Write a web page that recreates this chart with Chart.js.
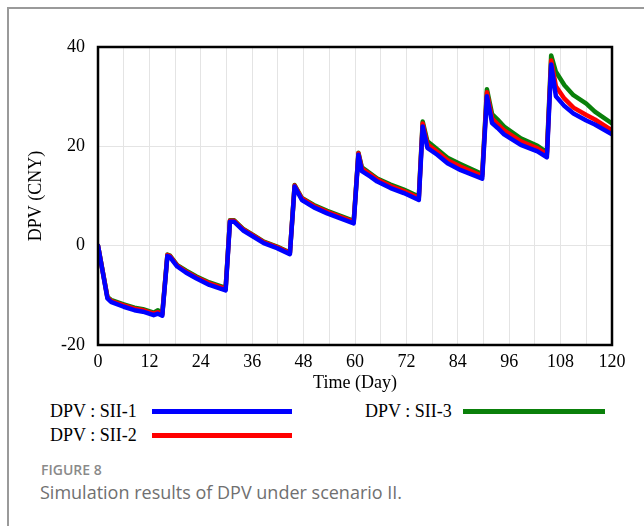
<!DOCTYPE html>
<html>
<head>
<meta charset="utf-8">
<script src="https://cdn.jsdelivr.net/npm/chart.js@4/dist/chart.umd.min.js"></script>
<style>
  html, body { margin: 0; padding: 0; background: #fff; }
  #page { position: relative; width: 644px; height: 526px; overflow: hidden; }
  #frame { position: absolute; left: 7px; top: 7px; right: -4px; bottom: -4px;
           border-left: 2px solid #9a9a9a; border-top: 2px solid #9a9a9a; }
  #chart { position: absolute; left: 0; top: 0; }
  .lg { position: absolute; font-family: "Liberation Serif", "Times New Roman", serif;
        font-size: 18px; color: #000; line-height: 20px; white-space: nowrap; }
  .lgline { position: absolute; height: 5px; }
  #fig { position: absolute; left: 41px; top: 460px; font-family: "Open Sans", sans-serif;
         font-weight: 600; font-size: 14px; color: #8a8a8a; }
  #cap { position: absolute; left: 40px; top: 480px; font-family: "Open Sans", sans-serif;
         font-size: 18px; color: #707070; }
</style>
</head>
<body>
<div id="page">
  <div id="frame"></div>
  <canvas id="chart" width="644" height="400"></canvas>
  <div class="lg" style="left:50px; top:401px;">DPV : SII-1</div>
  <div class="lgline" style="left:152px; top:409px; width:140px; background:#0000ff;"></div>
  <div class="lg" style="left:365px; top:401px;">DPV : SII-3</div>
  <div class="lgline" style="left:463px; top:409px; width:142px; background:#0a800a;"></div>
  <div class="lg" style="left:50px; top:425px;">DPV : SII-2</div>
  <div class="lgline" style="left:152px; top:433px; width:140px; background:#ff0000;"></div>
  <div id="fig">FIGURE 8</div>
  <div id="cap">Simulation results of DPV under scenario II.</div>
</div>
<script>
// -----------------------------
// Data
// -----------------------------
const days = [0, 2.2, 3, 6, 8.5, 10.5, 13, 14, 15, 16.2, 16.8, 18.5, 20.5, 23, 26, 29.8,
  30.8, 31.8, 34, 36.3, 38.7, 41.8, 44.8, 45.9, 47.6, 50.4, 53.5, 56.6, 59.7,
  60.8, 61.6, 63.6, 65.2, 68.3, 71.4, 74.9, 75.8, 76.9, 79.2, 81.6, 84.7, 89.7,
  90.8, 92, 93.3, 94.8, 98.7, 102.6, 104.8, 105.8, 106.9, 108.9, 111, 114, 116, 120];

const sii1 = [0, -10.6, -11.3, -12.3, -13, -13.3, -14, -13.7, -14.1, -2.1, -2.3, -4.2, -5.4, -6.6, -7.9, -9,
  4.8, 4.8, 3, 1.8, 0.5, -0.5, -1.7, 11.9, 9.2, 7.7, 6.5, 5.5, 4.5,
  18.3, 15, 13.9, 12.9, 11.6, 10.6, 9.2, 24, 19.7, 18.3, 16.6, 15.2, 13.5,
  30.1, 24.7, 23.7, 22.4, 20.3, 19, 17.8, 36.5, 30.1, 28.1, 26.6, 25.2, 24.4, 22.4];

const sii2 = [0, -10.4, -11.1, -12, -12.7, -13, -13.7, -13.4, -13.9, -1.9, -2.1, -4, -5.2, -6.4, -7.6, -8.7,
  5, 5, 3.2, 2, 0.7, -0.3, -1.5, 12.1, 9.5, 8, 6.8, 5.8, 4.8,
  18.6, 15.5, 14.3, 13.3, 12, 11, 9.6, 24.6, 20.4, 18.9, 17.2, 15.9, 14,
  30.9, 25.6, 24.5, 23.2, 21, 19.6, 18.4, 37.3, 32.1, 29.6, 27.8, 26.3, 25.4, 23.2];

const sii3 = [0, -10.3, -10.9, -11.8, -12.5, -12.8, -13.5, -13, -13.7, -1.8, -2, -3.9, -5, -6.2, -7.4, -8.5,
  5.1, 5.1, 3.3, 2.1, 0.8, -0.2, -1.4, 12.2, 9.6, 8.2, 7, 6, 5,
  18.7, 15.8, 14.5, 13.5, 12.3, 11.3, 9.9, 25, 21, 19.4, 17.7, 16.4, 14.4,
  31.5, 26.5, 25.4, 24, 21.6, 20.1, 18.8, 38.3, 35, 32.3, 30.3, 28.6, 27, 24.6];

const xTicks = [0, 12, 24, 36, 48, 60, 72, 84, 96, 108, 120];
const yTicks = [-20, 0, 20, 40];

const toPoints = vals => days.map((d, i) => ({ x: d, y: vals[i] }));

// -----------------------------
// Plot frame plugin
// -----------------------------
const boxPlugin = {
  id: 'box',
  afterDraw(chart) {
    const { ctx, chartArea: a } = chart;
    ctx.save();
    ctx.strokeStyle = '#000';
    ctx.lineWidth = 2.5;
    ctx.strokeRect(a.left, a.top, a.right - a.left, a.bottom - a.top);
    ctx.restore();
  }
};

const serif = { family: '"Liberation Serif", "Times New Roman", serif', size: 18 };

new Chart(document.getElementById('chart'), {
  type: 'line',
  data: {
    datasets: [
      { label: 'DPV : SII-1', data: toPoints(sii1), borderColor: '#0000ff', order: 1 },
      { label: 'DPV : SII-2', data: toPoints(sii2), borderColor: '#ff0000', order: 2 },
      { label: 'DPV : SII-3', data: toPoints(sii3), borderColor: '#0a800a', order: 3 }
    ]
  },
  options: {
    responsive: false,
    animation: false,
    parsing: false,
    elements: {
      point: { radius: 0 },
      line: { borderWidth: 4.5, tension: 0, borderJoinStyle: 'round', borderCapStyle: 'round' }
    },
    layout: { padding: { top: 47, right: 32, left: 0, bottom: 0 } },
    plugins: { legend: { display: false }, tooltip: { enabled: false } },
    scales: {
      x: {
        type: 'linear', min: 0, max: 120,
        afterBuildTicks: s => { s.ticks = []; for (let v = 0; v <= 120; v += 6) s.ticks.push({ value: v }); },
        afterFit: s => { s.height = 55; },
        grid: { color: '#e4e4e4', drawTicks: false },
        border: { display: false },
        ticks: {
          autoSkip: false, maxRotation: 0, padding: 6, color: '#000', font: serif,
          callback: v => xTicks.includes(v) ? String(v) : ''
        },
        title: { display: true, text: 'Time (Day)', color: '#000', font: serif, padding: { top: 0, bottom: 6 } }
      },
      y: {
        min: -20, max: 40,
        afterBuildTicks: s => { s.ticks = yTicks.map(v => ({ value: v })); },
        afterFit: s => { s.width = 98; },
        grid: { color: '#e4e4e4', drawTicks: false },
        border: { display: false },
        ticks: { padding: 13, color: '#000', font: serif },
        title: { display: true, text: 'DPV (CNY)', color: '#000', font: serif, padding: { top: 25, bottom: 0 } }
      }
    }
  },
  plugins: [boxPlugin]
});
</script>
</body>
</html>
